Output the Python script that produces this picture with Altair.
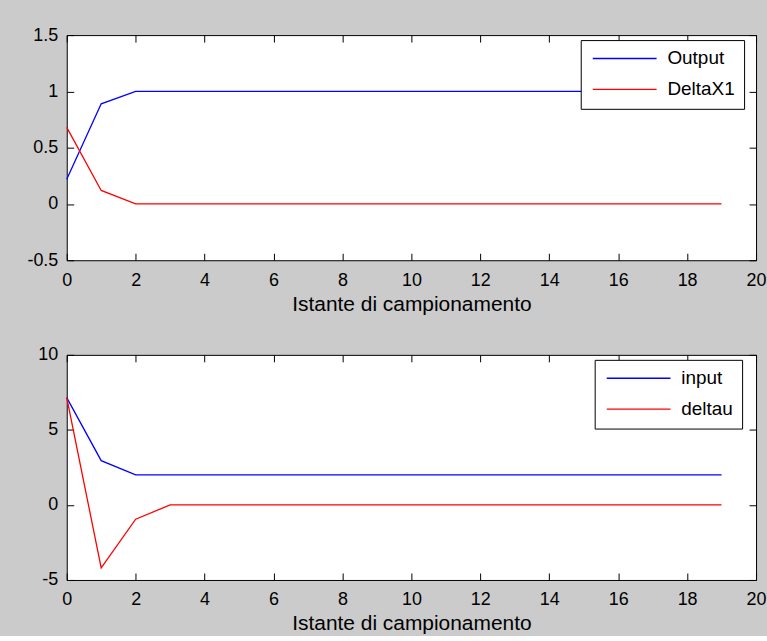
import altair as alt
import pandas as pd

# Sampling instants
steps = [0, 1, 2, 3, 4, 5, 6, 7, 8, 9, 10, 11, 12, 13, 14, 15, 16, 17, 18, 19]

# Upper panel: system output and state increment
output = [0.22, 0.89, 1.0, 1.0, 1.0, 1.0, 1.0, 1.0, 1.0, 1.0,
          1.0, 1.0, 1.0, 1.0, 1.0, 1.0, 1.0, 1.0, 1.0, 1.0]
delta_x1 = [0.68, 0.12, 0.0, 0.0, 0.0, 0.0, 0.0, 0.0, 0.0, 0.0,
            0.0, 0.0, 0.0, 0.0, 0.0, 0.0, 0.0, 0.0, 0.0, 0.0]

# Lower panel: control input and its increment
u_input = [7.15, 2.95, 2.0, 2.0, 2.0, 2.0, 2.0, 2.0, 2.0, 2.0,
           2.0, 2.0, 2.0, 2.0, 2.0, 2.0, 2.0, 2.0, 2.0, 2.0]
delta_u = [7.15, -4.2, -0.95, 0.0, 0.0, 0.0, 0.0, 0.0, 0.0, 0.0,
           0.0, 0.0, 0.0, 0.0, 0.0, 0.0, 0.0, 0.0, 0.0, 0.0]

x_ticks = [0, 2, 4, 6, 8, 10, 12, 14, 16, 18, 20]
y_ticks_top = [-0.5, 0, 0.5, 1, 1.5]
y_ticks_bottom = [-5, 0, 5, 10]

FONT = "Liberation Sans"
TICK = 7
W, H = 692, 226
LINE_COLORS = ["#0000ff", "#ff0000"]
X_TITLE = "Istante di campionamento"

# Legend key: a long horizontal stroke drawn from a small symbol cell,
# so that rows stay tightly packed.
KEY_PATH = "M-1,0H9"
KEY_SIZE = 164          # sqrt -> 12.8 px cell, stroke ~64 px long
KEY_LABEL_GAP = 59


def long_table(names, series_a, series_b):
    return pd.DataFrame({
        "step": steps + steps,
        "value": series_a + series_b,
        "series": [names[0]] * len(steps) + [names[1]] * len(steps),
    })


def panel(df, names, y_domain, y_ticks, legend_x, legend_y):
    x_scale = alt.Scale(domain=[0, 20], nice=False, zero=False)
    y_scale = alt.Scale(domain=y_domain, nice=False, zero=False)

    # Inward ticks: the axis line is pulled inside the box by the tick length
    lines = alt.Chart(df).mark_line(strokeWidth=1.3).encode(
        x=alt.X("step:Q", scale=x_scale,
                axis=alt.Axis(values=x_ticks, orient="bottom", offset=-TICK,
                              tickSize=TICK, domain=False, grid=False,
                              labelPadding=11, labelFlush=False,
                              labelOverlap=False, title=X_TITLE,
                              titlePadding=4)),
        y=alt.Y("value:Q", scale=y_scale,
                axis=alt.Axis(values=y_ticks, orient="left", offset=-TICK,
                              tickSize=TICK, domain=False, grid=False,
                              labelPadding=9, labelFlush=False,
                              labelOverlap=False,
                              labelExpr="'' + datum.value", title=None)),
        color=alt.Color("series:N",
                        scale=alt.Scale(domain=names, range=LINE_COLORS),
                        legend=alt.Legend(
                            orient="none", legendX=legend_x, legendY=legend_y,
                            title=None, symbolType=KEY_PATH,
                            symbolSize=KEY_SIZE, symbolStrokeWidth=1.3,
                            labelFontSize=19, labelFont=FONT,
                            labelColor="black", strokeColor="black",
                            fillColor="white", padding=9, rowPadding=11,
                            labelOffset=KEY_LABEL_GAP, cornerRadius=0,
                            labelLimit=0)),
        order=alt.Order("series:N"),
    )

    # Tick marks on the top and right edges of the box
    frame = alt.Chart(df).mark_line(strokeOpacity=0).encode(
        x=alt.X("step:Q", scale=x_scale,
                axis=alt.Axis(values=x_ticks, orient="top", offset=-TICK,
                              tickSize=TICK, domain=False, grid=False,
                              labels=False, title=None)),
        y=alt.Y("value:Q", scale=y_scale,
                axis=alt.Axis(values=y_ticks, orient="right", offset=-TICK,
                              tickSize=TICK, domain=False, grid=False,
                              labels=False, title=None)),
    )

    return alt.layer(lines, frame).resolve_axis(
        x="independent", y="independent"
    ).properties(width=W, height=H)


top = panel(long_table(["Output", "DeltaX1"], output, delta_x1),
            ["Output", "DeltaX1"], [-0.5, 1.5], y_ticks_top, 516, 5)
bottom = panel(long_table(["input", "deltau"], u_input, delta_u),
               ["input", "deltau"], [-5, 10], y_ticks_bottom, 530, 5)

chart = alt.vconcat(top, bottom, spacing=30).resolve_scale(
    color="independent"
).resolve_legend(
    color="independent"
).properties(
    background="#cbcbcb",
    padding={"left": 26, "top": 24, "right": 0, "bottom": 0},
).configure_view(
    fill="white", stroke="black", strokeWidth=1
).configure_axis(
    labelFont=FONT, labelFontSize=18, labelColor="black",
    titleFont=FONT, titleFontSize=21, titleColor="black",
    titleFontWeight="normal", tickColor="black", tickWidth=1,
)

chart.save("out.html", embed_options={"renderer": "svg", "actions": False})
